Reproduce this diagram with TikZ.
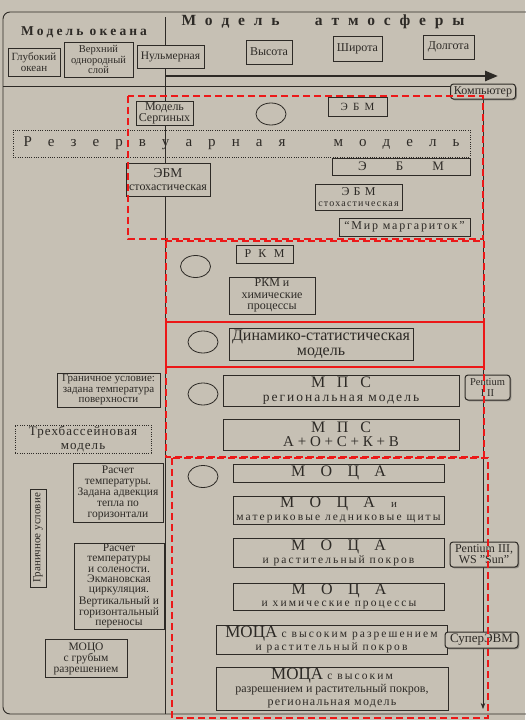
\documentclass[tikz,border=0pt]{standalone}
\usepackage{fontspec}
\setmainfont{Liberation Serif}
\usepackage{tikz}
\usetikzlibrary{arrows.meta,positioning,shapes.geometric,backgrounds,shadows}
\definecolor{paper}{RGB}{198,192,180}
\definecolor{ink}{RGB}{45,42,38}
\definecolor{mark}{RGB}{236,24,24}
\newcommand{\fsz}[2]{\fontsize{#1}{#2}\selectfont}
\newcommand{\spaced}[2]{\makebox[#1][s]{#2}}
\newcommand{\lsp}{\addfontfeature{LetterSpace=15}}
\newcommand{\wide}{\fontsize{11.5}{11.5}\selectfont\addfontfeature{LetterSpace=18}}

\begin{document}
\begin{tikzpicture}[x=1pt,y=-1pt,
  box/.style={draw=ink, line width=0.6pt, fill=paper, text=ink, align=center,
              inner sep=1pt, font=\fsz{11}{11}},
  dotbox/.style={box, dash pattern=on 1pt off 1.3pt},
  comp/.style={box, rounded corners=3pt, line width=1pt,
               drop shadow={shadow xshift=1.3pt, shadow yshift=-1.3pt, fill=ink!80}},
  ring/.style={draw=ink, line width=0.8pt, ellipse, minimum width=30pt,
               minimum height=22pt, inner sep=0pt},
  title/.style={text=ink, font=\bfseries\fsz{13.5}{13.5}, inner sep=0pt},
  sz/.style 2 args={minimum width=#1pt, minimum height=#2pt},
  zone/.style={draw=mark, line width=1.3pt, dash pattern=on 7pt off 4pt},
  arr/.style={->, >=Stealth, draw=ink, line width=0.7pt}
]
\useasboundingbox (0,0) rectangle (525,720);

% header
\node[title] (ocean) at (84,32) {\spaced{126pt}{М о д е л ь \ о к е а н а}};
\node[title, font=\bfseries\fsz{15.5}{15.5}] (atmo) at (323,22) {\spaced{283pt}{М о д е л ь \ \ \ а т м о с ф е р ы}};
\node[box, sz={52}{28}] (deep) at (34,62) {Глубокий\\океан};
\node[box, sz={69}{35}, font=\fsz{10.5}{10.5}] (upper) at (98.5,59.5) {Верхний\\однородный\\слой};
\node[box, sz={67}{23}, font=\fsz{11.5}{11.5}] (zero) at (170.5,56.5) {Нульмерная};
\node[box, sz={46}{24}, font=\fsz{12}{12}] (alt) at (269,52) {Высота};
\node[box, sz={49}{25}, font=\fsz{12}{12}] (lat) at (357.5,48.5) {Широта};
\node[box, sz={51}{24}, font=\fsz{12}{12}] (lon) at (448.5,47) {Долгота};
\node[comp, sz={65}{15}, font=\fsz{12}{12}] (comp) at (483,91.5) {Компьютер};

\coordinate (divtop) at (165,17);
\coordinate (divbot) at (165,714);
\coordinate (sepL) at (3,86);
\coordinate (sepR) at (508,86);
\coordinate (arrS) at (165,76);
\coordinate (arrE) at (498,76);
\coordinate (arrbot) at (483,709);

% zone 1
\node[box, sz={57}{23}, font=\fsz{12}{11}] (sergin) at (164.5,113.5) {Модель\\Сергиных};
\node[ring] (c1) at (271,114) {};
\node[box, sz={59}{19}, font=\fsz{11}{11}] (ebm) at (357.5,106.5) {\spaced{34pt}{Э Б М}};
\node[dotbox, fill=none, sz={457}{27}, font=\fsz{15}{15}] (tank) at (241.5,143.5) {\spaced{436pt}{Р е з е р в у а р н а я \ \ м о д е л ь}};
\node[box, sz={138}{17}, font=\fsz{13}{13}] (ebmline) at (401,166.5) {\spaced{86pt}{Э Б М}};
\node[box, sz={84}{33}, font=\fsz{12}{13}] (stochA) at (168,179.5) {{\fsz{13.5}{13}ЭБМ}\\стохастическая};
\node[box, sz={87}{26}, font=\fsz{10}{11}\addfontfeature{LetterSpace=12}] (stochB) at (358.5,197) {{\fsz{12}{12}\spaced{34pt}{Э Б М}}\\стохастическая};
\node[box, sz={131}{18}, font=\fsz{12}{12}\lsp] (daisy) at (404.5,227) {“Мир маргариток”};

% zone 2
\node[ring] (c2) at (195.5,266.5) {};
\node[box, sz={57}{18}, font=\fsz{12}{12}] (rkm) at (264.5,254) {\spaced{40pt}{Р К М}};
\node[box, sz={86}{37}, font=\fsz{12}{11.5}] (rkmchem) at (272,295.5) {РКМ и\\химические\\процессы};

% zone 3
\node[ring] (c3) at (203,342) {};
\node[box, sz={184}{32}, font=\fsz{16}{15}] (dyn) at (321,344) {Динамико-статистическая\\модель};

% zone 4
\node[box, sz={103}{34}, font=\fsz{11}{10.5}] (bndA) at (108.5,390) {Граничное условие:\\задана температура\\поверхности};
\node[ring] (c4) at (203,394) {};
\node[box, sz={236}{31}, font=\fsz{16}{14}] (mpsA) at (341,390.5) {\spaced{60pt}{М П С}\\{\fsz{13.5}{13}\lsp региональная модель}};
\node[comp, sz={45}{25}, font=\fsz{10.5}{10.5}] (pentA) at (487.5,387.5) {Pentium\\I II};
\node[dotbox, sz={136}{28}, font=\fsz{13}{13.5}\addfontfeature{LetterSpace=8}] (three) at (83,439) {Трехбассейновая\\модель};
\node[box, sz={236}{31}, font=\fsz{16}{14}] (mpsB) at (341,434.5) {\spaced{60pt}{М П С}\\{\fsz{15}{14}А + О + С + К + В}};

% zone 5
\node[ring] (c5) at (203,476.5) {};
\node[box, sz={211}{18}, font=\fsz{16}{16}] (mocaA) at (338.5,473) {\spaced{95pt}{М О Ц А}};
\node[box, sz={211}{28}, font=\fsz{16}{13}] (mocaB) at (338.5,510) {\spaced{95pt}{М О Ц А}\hspace{16pt}{\fsz{11}{11}и}\\{\wide материковые ледниковые щиты}};
\node[box, sz={211}{29}, font=\fsz{16}{13}] (mocaC) at (338.5,552.5) {\spaced{95pt}{М О Ц А}\\{\wide и растительный покров}};
\node[comp, sz={68}{25}, font=\fsz{12}{11}] (pentB) at (484,554.5) {Pentium III,\\WS "Sun"};
\node[box, sz={211}{25}, font=\fsz{16}{12}] (mocaD) at (339,596.5) {\spaced{95pt}{М О Ц А}\\{\wide и химические процессы}};
\node[box, sz={231}{27}, font=\fsz{17}{13}] (mocaE) at (331.5,639.5) {МОЦА {\wide с высоким разрешением}\\{\wide и растительный покров}};
\node[comp, sz={73}{16}, font=\fsz{13}{13}] (super) at (481.5,640) {СуперЭВМ};
\node[box, sz={232}{43}, font=\fsz{17}{13}] (mocaF) at (332,688.5) {МОЦА {\wide с высоким}\\{\fsz{12}{12}разрешением и растительный покров,}\\{\fsz{12}{12}\addfontfeature{LetterSpace=10}региональная модель}};

\node[box, sz={90}{59}, font=\fsz{11.5}{11}] (calcA) at (118,492.5) {Расчет\\температуры.\\Задана адвекция\\тепла по\\горизонтали};
\node[box, rotate=90, sz={98}{16}] (bndB) at (38,538) {Граничное условие};
\node[box, sz={90}{84}, font=\fsz{11.5}{10.3}] (calcB) at (119,586) {Расчет\\температуры\\и солености.\\Экмановская\\циркуляция.\\Вертикальный и\\горизонтальный\\переносы};
\node[box, sz={82}{38}, font=\fsz{11.5}{11}] (rough) at (86,658.5) {МОЦО\\с грубым\\разрешением};

\begin{scope}[on background layer]
\fill[paper] (0,0) rectangle (525,720);
\draw[ink, line width=0.9pt, rounded corners=7pt] (3,12) rectangle (545,714);
\draw[ink, line width=0.7pt] (divtop) -- (divbot);
\draw[ink, line width=0.7pt] (sepL) -- (sepR);
\draw[ink, line width=2.6pt, -{Triangle[length=13pt,width=10pt]}] (arrS) -- (arrE);
\draw[arr] (comp.south) -- (comp.south |- arrbot);
\end{scope}

% red frames
\draw[zone] (128,96) rectangle (483,239);
\draw[zone] (166,241) rectangle (484,322);
\draw[zone, solid] (166,322) rectangle (484,367);
\draw[zone] (166,367) rectangle (484,457);
\draw[zone] (172,458) rectangle (488,718);
\end{tikzpicture}
\end{document}
